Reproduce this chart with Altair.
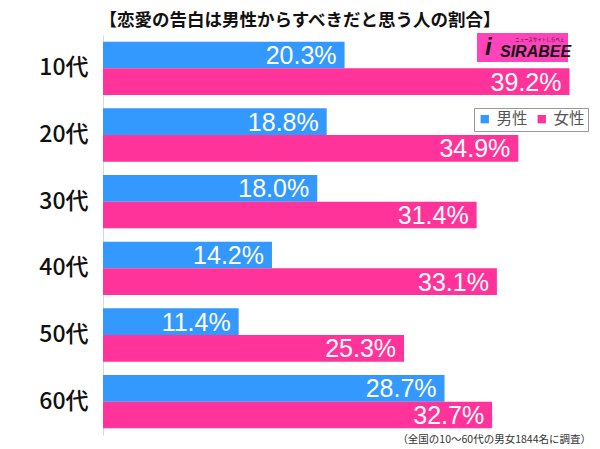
import altair as alt
import pandas as pd

ages = ["10代", "20代", "30代", "40代", "50代", "60代"]
male = [20.3, 18.8, 18.0, 14.2, 11.4, 28.7]
female = [39.2, 34.9, 31.4, 33.1, 25.3, 32.7]
genders = ["男性", "女性"]
colors = ["#3399ff", "#ff3399"]

rows = []
for a, m, f in zip(ages, male, female):
    rows.append({"age": a, "gender": "男性", "v": m})
    rows.append({"age": a, "gender": "女性", "v": f})
df = pd.DataFrame(rows)

JP = "Noto Sans CJK JP"

y_enc = alt.Y("age:N", sort=ages, title=None,
              scale=alt.Scale(paddingInner=0.2, paddingOuter=0.1),
              axis=alt.Axis(labelFontSize=23, labelColor="#111", labelFont=JP,
                            labelFontWeight=500,
                            ticks=False, domain=True, domainColor="#d8d8d8",
                            labelPadding=15))
yoff = alt.YOffset("gender:N", sort=genders, scale=alt.Scale(paddingInner=0, paddingOuter=0))
x_enc = alt.X("v:Q", scale=alt.Scale(domain=[0, 40]), axis=None)

base = alt.Chart(df)

bars = base.mark_bar().encode(
    y=y_enc, yOffset=yoff, x=x_enc,
    color=alt.Color("gender:N", sort=genders,
                    scale=alt.Scale(domain=genders, range=colors),
                    legend=alt.Legend(title=None, orient="none", legendX=371, legendY=73,
                                      direction="horizontal", strokeColor="#999",
                                      padding=3, symbolType="square", symbolSize=70,
                                      symbolStrokeWidth=0,
                                      labelFontSize=15.5, labelColor="#555", labelFont=JP,
                                      columnPadding=6, symbolOffset=0))
)

labels = base.transform_calculate(
    label="format(datum.v, '.1f') + '%'"
).mark_text(align="right", baseline="middle", dx=-8, dy=1, color="white",
            fontSize=25, font="Liberation Sans").encode(
    y=alt.Y("age:N", sort=ages), yOffset=yoff, x=x_enc, text="label:N"
)

title = alt.Chart(pd.DataFrame({"t": ["【恋愛の告白は男性からすべきだと思う人の割合】"]})).mark_text(
    align="center", baseline="middle", fontSize=17.5, fontWeight="bold", font=JP, color="#111"
).encode(x=alt.value(197), y=alt.value(-14), text="t:N")

logo_bg = alt.Chart(pd.DataFrame({"a": [1]})).mark_rect(color="#ff44bb").encode(
    x=alt.value(374), x2=alt.value(465), y=alt.value(-2), y2=alt.value(27))
logo_txt = alt.Chart(pd.DataFrame({"t": ["SIRABEE"]})).mark_text(
    align="left", baseline="middle", fontSize=16, fontWeight="bold", fontStyle="italic",
    font="Liberation Sans", color="#111").encode(x=alt.value(397), y=alt.value(17), text="t:N")
logo_i = alt.Chart(pd.DataFrame({"t": ["i"]})).mark_text(
    align="left", baseline="middle", fontSize=24, fontWeight="bold", fontStyle="italic",
    font="Liberation Sans", color="#111").encode(x=alt.value(382), y=alt.value(13), text="t:N")
logo_sub = alt.Chart(pd.DataFrame({"t": ["ニュースサイトしらべぇ"]})).mark_text(
    align="left", baseline="middle", fontSize=4.5, font=JP, color="#111").encode(
    x=alt.value(412), y=alt.value(5), text="t:N")

foot = alt.Chart(pd.DataFrame({"t": ["（全国の10～60代の男女1844名に調査）"]})).mark_text(
    align="right", baseline="middle", fontSize=10.5, font=JP, color="#333").encode(
    x=alt.value(488), y=alt.value(405), text="t:N")

chart = alt.layer(bars, labels, title, logo_bg, logo_i, logo_txt, logo_sub, foot).properties(
    width=476, height=400,
    autosize=alt.AutoSizeParams(type="none"),
    padding={"left": 95, "top": 27, "right": 13, "bottom": 14},
    background="white"
).configure_view(stroke=None)

chart.save("out.html", embed_options={"renderer": "svg", "actions": False})
